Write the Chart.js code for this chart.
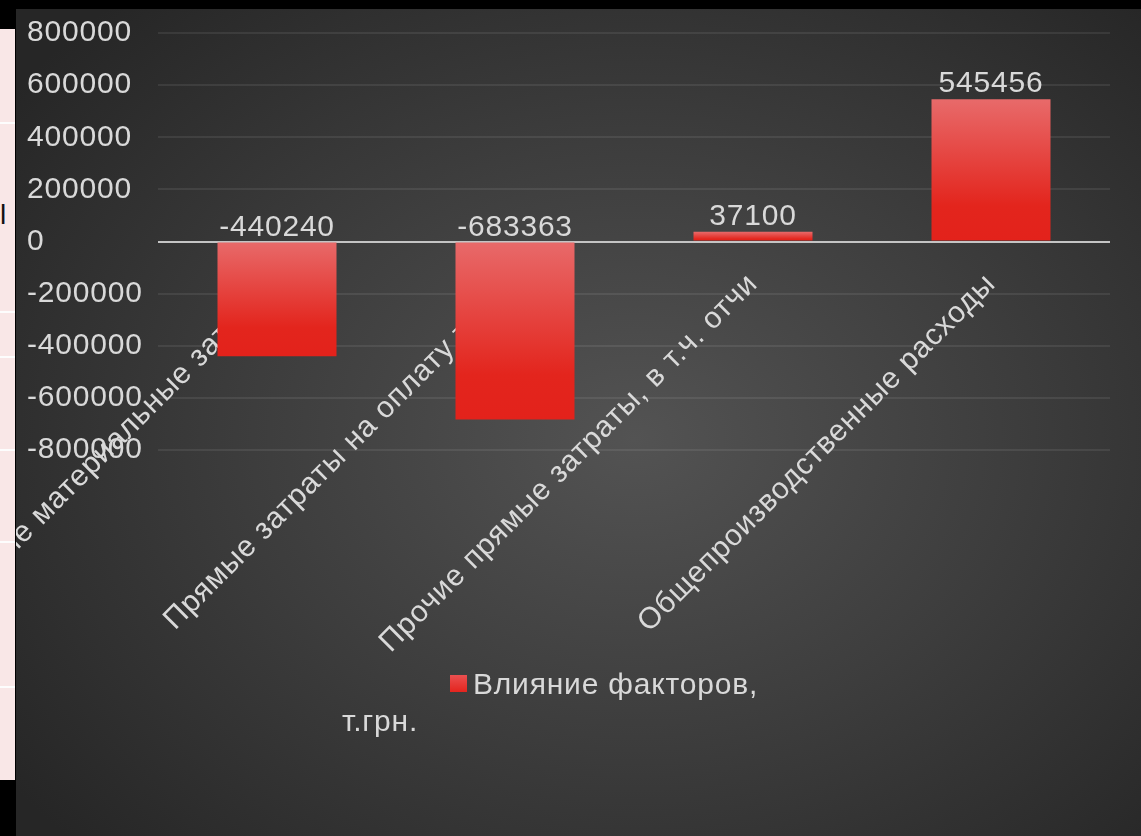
<!DOCTYPE html>
<html>
<head>
<meta charset="utf-8">
<title>Влияние факторов</title>
<script src="https://cdn.jsdelivr.net/npm/chart.js@4.4.1/dist/chart.umd.min.js"></script>
<style>
  html, body { margin: 0; padding: 0; background: #000; width: 1141px; height: 836px; overflow: hidden; }
  /* strip of the table that sits left of the chart */
  #side { position: absolute; left: 0; top: 29px; width: 15px; height: 751px; background: #f9e7e7; overflow: hidden; }
  #side .row { position: absolute; left: 0; width: 15px; height: 2px; background: #fdfdfd; }
  #side span { position: absolute; left: 0; top: 170px; font: 28px "Liberation Sans", Arial, sans-serif; color: #111; }
  #wrap {
    position: absolute; left: 16px; top: 9px; width: 1125px; height: 827px;
    background: radial-gradient(ellipse 68% 72% at 55% 52%, #535353 0%, #3d3d3d 50%, #262626 100%);
  }
</style>
</head>
<body>
<div id="side">
  <div class="row" style="top:93px"></div>
  <div class="row" style="top:282px"></div>
  <div class="row" style="top:327px"></div>
  <div class="row" style="top:420px"></div>
  <div class="row" style="top:512px"></div>
  <div class="row" style="top:657px"></div>
  <span>l</span>
</div>
<div id="wrap"><canvas id="myChart"></canvas></div>
<script>
const categories = [
  'Прямые материальные затраты',
  'Прямые затраты на оплату труда',
  'Прочие прямые затраты, в т.ч. отчи',
  'Общепроизводственные расходы'
];
const values = [-440240, -683363, 37100, 545456];
const seriesName = 'Влияние факторов, т.грн.';
const legendLines = ['Влияние факторов,', 'т.грн.'];
const yTicks = [800000, 600000, 400000, 200000, 0, -200000, -400000, -600000, -800000];

const FONT = '"Liberation Sans", Arial, sans-serif';
const TEXT = '#d9d9d9';

// the source font runs a little wider than Arial
const spacing = {
  id: 'spacing',
  beforeLayout(chart) { chart.ctx.letterSpacing = '0.8px'; },
  beforeDraw(chart) { chart.ctx.letterSpacing = '0.8px'; }
};

// value labels, above the bar top or above the zero line
const barLabels = {
  id: 'barLabels',
  afterDatasetsDraw(chart) {
    const { ctx } = chart;
    ctx.save();
    ctx.font = '30px ' + FONT;
    ctx.fillStyle = TEXT;
    ctx.textAlign = 'center';
    ctx.textBaseline = 'alphabetic';
    chart.getDatasetMeta(0).data.forEach((bar, i) => {
      const top = Math.min(bar.y, bar.base);
      ctx.fillText(String(values[i]), bar.x, top - 7);
    });
    ctx.restore();
  }
};

// legend wraps onto two lines like the original
const legendBox = {
  id: 'legendBox',
  afterDraw(chart) {
    const { ctx } = chart;
    ctx.save();
    const g = ctx.createLinearGradient(0, 666, 0, 684);
    g.addColorStop(0, '#ea5050');
    g.addColorStop(1, '#e3221b');
    ctx.fillStyle = g;
    ctx.fillRect(434, 666, 17, 17);
    ctx.font = '30px ' + FONT;
    ctx.fillStyle = TEXT;
    ctx.textAlign = 'left';
    ctx.textBaseline = 'alphabetic';
    ctx.fillText(legendLines[0], 457, 685);
    ctx.fillText(legendLines[1], 326, 722);
    ctx.restore();
  }
};

function barFill(context) {
  const chart = context.chart;
  if (!chart.chartArea) return '#e3221b';
  const y = chart.scales.y;
  const v = values[context.dataIndex];
  const top = y.getPixelForValue(Math.max(v, 0));
  const bottom = y.getPixelForValue(Math.min(v, 0));
  const grd = chart.ctx.createLinearGradient(0, top, 0, bottom + 0.01);
  grd.addColorStop(0, '#e86a6a');
  grd.addColorStop(0.75, '#e3251d');
  grd.addColorStop(1, '#e3221b');
  return grd;
}

const config = {
  type: 'bar',
  data: {
    labels: categories,
    datasets: [{
      label: seriesName,
      data: values,
      backgroundColor: barFill,
      borderWidth: 0,
      barPercentage: 0.5,
      categoryPercentage: 1
    }]
  },
  options: {
    responsive: true,
    maintainAspectRatio: false,
    animation: false,
    events: [],
    layout: {
      autoPadding: false,
      padding: { left: 11, top: 24, right: 31, bottom: 386 }
    },
    plugins: {
      legend: { display: false },
      tooltip: { enabled: false }
    },
    scales: {
      x: {
        position: { y: 0 },
        grid: { display: false, drawTicks: false },
        border: { display: false },
        ticks: {
          color: TEXT,
          font: { family: FONT, size: 30 },
          minRotation: 45,
          maxRotation: 45,
          autoSkip: false,
          padding: 25
        },
        afterFit(scale) {
          scale.height = 0;
          scale.paddingLeft = 0;
          scale.paddingRight = 0;
        }
      },
      y: {
        min: Math.min(...yTicks),
        max: Math.max(...yTicks),
        border: { display: false },
        grid: {
          drawTicks: false,
          color: (c) => (c.tick && c.tick.value === 0 ? '#c4c4c4' : 'rgba(255,255,255,0.08)'),
          lineWidth: 2
        },
        ticks: {
          stepSize: 200000,
          color: TEXT,
          font: { family: FONT, size: 30 },
          crossAlign: 'far',
          callback: (v) => String(v)
        },
        afterFit(scale) {
          scale.width = 131;
        }
      }
    }
  },
  plugins: [spacing, barLabels, legendBox]
};

const myChart = new Chart(document.getElementById('myChart'), config);
</script>
</body>
</html>
